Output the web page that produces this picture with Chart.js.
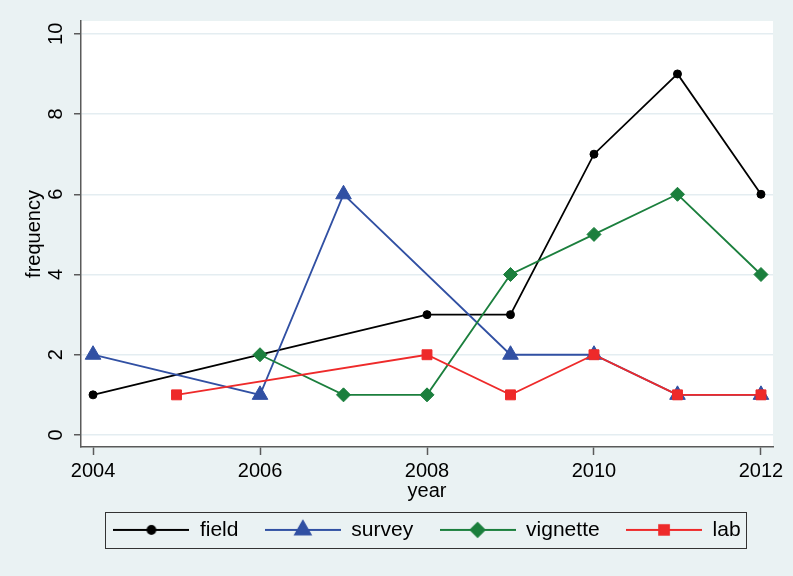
<!DOCTYPE html>
<html>
<head>
<meta charset="utf-8">
<script src="https://cdn.jsdelivr.net/npm/chart.js@4/dist/chart.umd.min.js"></script>
<style>
  html, body { margin: 0; padding: 0; background: #eaf2f3; }
  #wrap { width: 793px; height: 576px; }
</style>
</head>
<body>
<div id="wrap"><canvas id="freqChart" width="793" height="576"></canvas></div>
<script>
const fieldYears = [2004, 2006, 2008, 2009, 2010, 2011, 2012];
const fieldFreq = [1, 2, 3, 3, 7, 9, 6];
const surveyYears = [2004, 2006, 2007, 2009, 2010, 2011, 2012];
const surveyFreq = [2, 1, 6, 2, 2, 1, 1];
const vignetteYears = [2006, 2007, 2008, 2009, 2010, 2011, 2012];
const vignetteFreq = [2, 1, 1, 4, 5, 6, 4];
const labYears = [2005, 2008, 2009, 2010, 2011, 2012];
const labFreq = [1, 2, 1, 2, 1, 1];
const xTicks = [2004, 2006, 2008, 2010, 2012];
const yTicks = [0, 2, 4, 6, 8, 10];

const FONT = '"Liberation Sans", Arial, Helvetica, sans-serif';
const AXIS = '#5a5a5a';

function pts(xs, ys) {
    return xs.map((x, i) => ({x: x, y: ys[i]}));
}

// small canvas with a line and the marker, used as the legend symbol
function legendSymbol(color, style, radius) {
    const c = document.createElement('canvas');
    c.width = 76;
    c.height = 24;
    const g = c.getContext('2d');
    g.strokeStyle = color;
    g.fillStyle = color;
    g.lineWidth = 1.8;
    g.beginPath();
    g.moveTo(0, 12);
    g.lineTo(76, 12);
    g.stroke();
    Chart.helpers.drawPoint(g, {pointStyle: style, radius: radius, rotation: 0, borderWidth: 1}, 38, 12);
    return c;
}

const series = [
    {label: 'field', xs: fieldYears, ys: fieldFreq, color: '#000000', style: 'circle', r: 4, order: 4},
    {label: 'survey', xs: surveyYears, ys: surveyFreq, color: '#3150a3', style: 'triangle', r: 9, order: 3},
    {label: 'vignette', xs: vignetteYears, ys: vignetteFreq, color: '#1b7f3d', style: 'rectRot', r: 7, order: 2},
    {label: 'lab', xs: labYears, ys: labFreq, color: '#ee2a2a', style: 'rect', r: 7, order: 1}
];

const backdrop = {
    id: 'backdrop',
    beforeDraw(chart) {
        const {ctx, chartArea: a} = chart;
        ctx.save();
        ctx.fillStyle = '#eaf2f3';
        ctx.fillRect(0, 0, chart.width, chart.height);
        ctx.fillStyle = '#ffffff';
        ctx.fillRect(a.left, a.top, a.right - a.left, a.bottom - a.top);
        ctx.restore();
    },
    afterDraw(chart) {
        const ctx = chart.ctx;
        const y = chart.scales.y;
        // rotated y tick labels
        ctx.save();
        ctx.fillStyle = '#000';
        ctx.font = '20px ' + FONT;
        ctx.textAlign = 'center';
        ctx.textBaseline = 'alphabetic';
        yTicks.forEach(v => {
            ctx.save();
            ctx.translate(62, y.getPixelForValue(v));
            ctx.rotate(-Math.PI / 2);
            ctx.fillText(String(v), 0, 0);
            ctx.restore();
        });
        ctx.restore();
        // frame around legend
        const boxes = chart.legend.legendHitBoxes;
        if (boxes && boxes.length) {
            const first = boxes[0], last = boxes[boxes.length - 1];
            const cy = first.top + first.height / 2;
            ctx.save();
            ctx.strokeStyle = '#333';
            ctx.lineWidth = 1;
            ctx.strokeRect(Math.round(first.left - 8) + 0.5, Math.round(cy - 18) + 0.5,
                Math.round(last.left + last.width + 6 - first.left + 8), 36);
            ctx.restore();
        }
    }
};

window.addEventListener('load', function() {
    const ctx = document.getElementById('freqChart').getContext('2d');
    const symbols = series.map(s => legendSymbol(s.color, s.style, s.r));

    new Chart(ctx, {
        type: 'line',
        data: {
            datasets: series.map(s => ({
                label: s.label,
                data: pts(s.xs, s.ys),
                borderColor: s.color,
                backgroundColor: s.color,
                borderWidth: 1.8,
                pointStyle: s.style,
                pointRadius: s.r,
                pointBorderWidth: 1,
                pointHoverRadius: s.r,
                tension: 0,
                order: s.order
            }))
        },
        options: {
            responsive: false,
            animation: false,
            devicePixelRatio: 1,
            layout: {padding: {top: 21, right: 20, left: 0, bottom: 25.6}},
            scales: {
                x: {
                    type: 'linear',
                    min: 2003.856,
                    max: 2012.144,
                    afterBuildTicks: s => { s.ticks = xTicks.map(v => ({value: v})); },
                    afterFit: s => { s.height = 46; },
                    border: {display: true, color: AXIS, width: 1.5},
                    grid: {drawOnChartArea: false, drawTicks: true, tickLength: 8, tickColor: AXIS, tickWidth: 1.5},
                    ticks: {
                        color: '#000',
                        padding: 4,
                        maxRotation: 0,
                        font: {family: FONT, size: 20},
                        callback: v => String(v)
                    },
                    title: {display: true, text: 'year', color: '#000', font: {family: FONT, size: 20}, padding: {top: 0, bottom: -10}}
                },
                y: {
                    min: -0.3,
                    max: 10.32,
                    afterBuildTicks: s => { s.ticks = yTicks.map(v => ({value: v})); },
                    afterFit: s => { s.width = 81; },
                    border: {display: true, color: AXIS, width: 1.5},
                    grid: {color: '#e4edf1', lineWidth: 1.5, drawTicks: true, tickLength: 7, tickColor: AXIS, tickWidth: 1.5},
                    ticks: {display: false},
                    title: {display: true, text: 'frequency', color: '#000', font: {family: FONT, size: 20}, padding: {top: 22, bottom: 0}}
                }
            },
            plugins: {
                tooltip: {enabled: false},
                legend: {
                    position: 'bottom',
                    fullSize: false,
                    labels: {
                        usePointStyle: true,
                        pointStyleWidth: 76,
                        padding: 26.4,
                        color: '#000',
                        font: {family: FONT, size: 21},
                        sort: (a, b) => a.datasetIndex - b.datasetIndex,
                        generateLabels: chart => {
                            const items = Chart.defaults.plugins.legend.labels.generateLabels(chart);
                            items.forEach(it => { it.pointStyle = symbols[it.datasetIndex]; });
                            return items;
                        }
                    }
                }
            }
        },
        plugins: [backdrop]
    });
});
</script>
</body>
</html>
